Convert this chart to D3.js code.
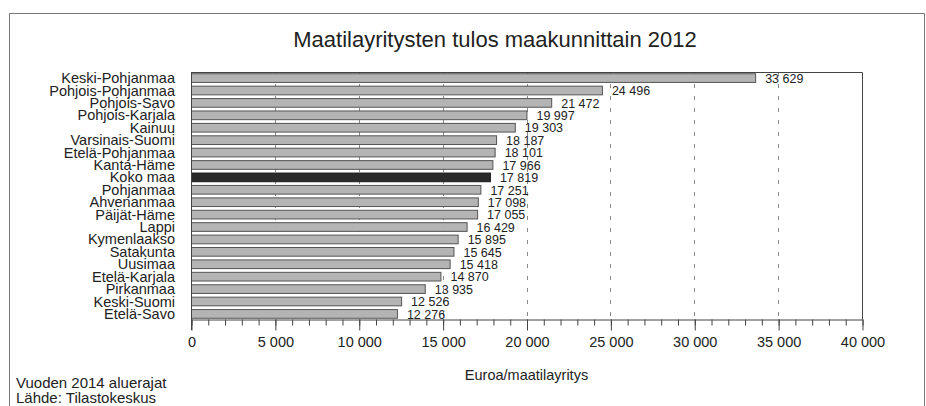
<!DOCTYPE html>
<html>
<head>
<meta charset="utf-8">
<script src="https://cdn.jsdelivr.net/npm/d3@7"></script>
<style>
body { margin: 0; background: #fff; }
svg text { font-family: "Liberation Sans", Arial, sans-serif; fill: #222; }
</style>
</head>
<body>
<svg width="926" height="406"></svg>
<script>
var regions = ["Keski-Pohjanmaa", "Pohjois-Pohjanmaa", "Pohjois-Savo", "Pohjois-Karjala", "Kainuu",
	"Varsinais-Suomi", "Etelä-Pohjanmaa", "Kanta-Häme", "Koko maa", "Pohjanmaa", "Ahvenanmaa",
	"Päijät-Häme", "Lappi", "Kymenlaakso", "Satakunta", "Uusimaa", "Etelä-Karjala", "Pirkanmaa",
	"Keski-Suomi", "Etelä-Savo"];
var values = [33629, 24496, 21472, 19997, 19303, 18187, 18101, 17966, 17819, 17251, 17098,
	17055, 16429, 15895, 15645, 15418, 14870, 13935, 12526, 12276];
var majorTicks = [0, 5000, 10000, 15000, 20000, 25000, 30000, 35000, 40000];
var totalLabel = "Koko maa";

var svg = d3.select("svg"),
	margin = {top: 72, right: 64, bottom: 87, left: 191},
	width = +svg.attr("width") - margin.left - margin.right,
	height = +svg.attr("height") - margin.top - margin.bottom;

var fmt = function(v) { return d3.format(",")(v).replace(/,/g, " "); };

// outer frame
svg.append("path")
	.attr("d", "M9.5,420 V13.5 H924.5 V420")
	.attr("fill", "none")
	.attr("stroke", "#777")
	.attr("stroke-width", 1);

svg.append("text")
	.attr("x", 495)
	.attr("y", 47)
	.attr("text-anchor", "middle")
	.style("font-size", "22px")
	.text("Maatilayritysten tulos maakunnittain 2012");

var x = d3.scaleLinear().domain([0, 40000]).range([0, width]),
	y = d3.scaleBand().domain(regions).range([0, height]).paddingInner(0.3).paddingOuter(0.1);

var g = svg.append("g")
	.attr("transform", "translate(" + margin.left + "," + margin.top + ")");

// dashed grid
g.selectAll(".grid")
	.data(majorTicks.slice(1, -1))
	.enter().append("line")
	.attr("class", "grid")
	.attr("x1", function(d) { return Math.round(x(d)) + 0.5; })
	.attr("x2", function(d) { return Math.round(x(d)) + 0.5; })
	.attr("y1", 0)
	.attr("y2", height)
	.attr("stroke", "#8a8a8a")
	.attr("stroke-dasharray", "4,8");

// bars
g.selectAll(".bar")
	.data(values)
	.enter().append("rect")
	.attr("class", "bar")
	.attr("x", 0.5)
	.attr("y", function(d, i) { return y(regions[i]) + 0.5; })
	.attr("width", function(d) { return x(d); })
	.attr("height", y.bandwidth())
	.attr("fill", function(d, i) { return regions[i] == totalLabel ? "#2a2a2a" : "#b4b4b4"; })
	.attr("stroke", function(d, i) { return regions[i] == totalLabel ? "#1a1a1a" : "#555"; })
	.attr("stroke-width", 1);

// value labels
g.selectAll(".val")
	.data(values)
	.enter().append("text")
	.attr("class", "val")
	.attr("x", function(d) { return x(d) + 10; })
	.attr("y", function(d, i) { return y(regions[i]) + y.bandwidth() / 2; })
	.attr("dy", "0.42em")
	.style("font-size", "12.5px")
	.text(function(d) { return fmt(d); });

// category labels
g.selectAll(".cat")
	.data(regions)
	.enter().append("text")
	.attr("class", "cat")
	.attr("x", -16)
	.attr("y", function(d) { return y(d) + y.bandwidth() / 2; })
	.attr("dy", "0.38em")
	.attr("text-anchor", "end")
	.style("font-size", "14.5px")
	.text(function(d) { return d; });

// plot frame top/right
g.append("path")
	.attr("d", "M0.5,0.5 H" + (Math.round(width) + 0.5) + " V" + (height + 0.5))
	.attr("fill", "none")
	.attr("stroke", "#444");

// minor ticks
g.append("g")
	.attr("transform", "translate(0.5," + (height + 0.5) + ")")
	.call(d3.axisBottom(x).ticks(40).tickSize(6).tickFormat(""))
	.call(function(a) { a.select(".domain").remove(); a.selectAll("line").attr("stroke", "#444"); });

// major axis
g.append("g")
	.attr("class", "axis axis--x")
	.attr("transform", "translate(0.5," + (height + 0.5) + ")")
	.call(d3.axisBottom(x).tickValues(majorTicks).tickSize(11).tickSizeOuter(0).tickPadding(6).tickFormat(fmt))
	.call(function(a) {
		a.select(".domain").attr("stroke", "#444");
		a.selectAll("line").attr("stroke", "#444");
		a.selectAll("text").style("font-size", "14.5px").style("font-family", "Liberation Sans, Arial, sans-serif").attr("fill", "#222");
	});

// left axis line
g.append("line")
	.attr("x1", 0.5).attr("x2", 0.5)
	.attr("y1", 0).attr("y2", height + 11)
	.attr("stroke", "#444");

g.append("text")
	.attr("x", width / 2)
	.attr("y", height + 61)
	.attr("text-anchor", "middle")
	.style("font-size", "14.5px")
	.text("Euroa/maatilayritys");

svg.append("text")
	.attr("x", 16)
	.attr("y", 388)
	.style("font-size", "15px")
	.text("Vuoden 2014 aluerajat");
svg.append("text")
	.attr("x", 16)
	.attr("y", 403)
	.style("font-size", "15px")
	.text("Lähde: Tilastokeskus");
</script>
</body>
</html>
